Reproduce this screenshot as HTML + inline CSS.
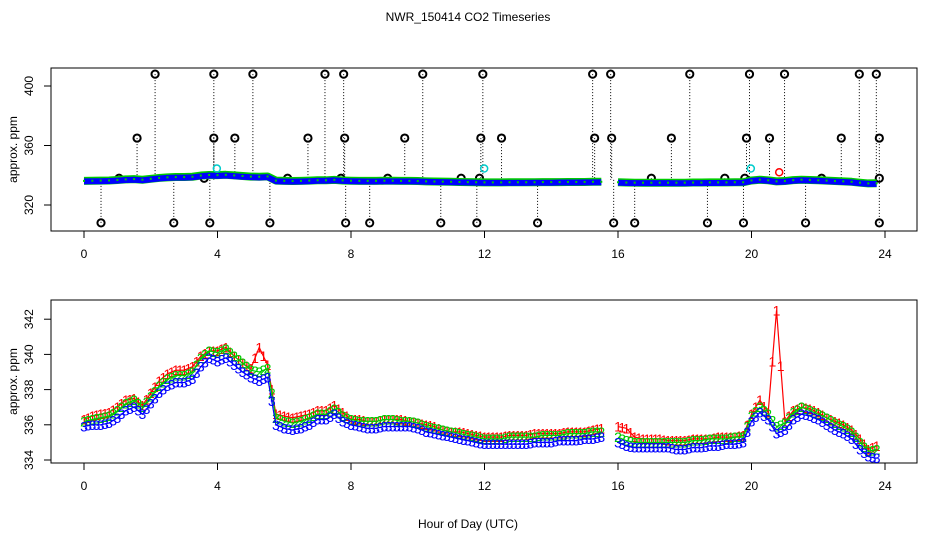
<!DOCTYPE html>
<html><head><meta charset="utf-8"><style>
body{margin:0;background:#fff}
svg{display:block;font-family:"Liberation Sans",sans-serif}
</style></head><body>
<svg id="c" width="936" height="540" xmlns="http://www.w3.org/2000/svg">
<rect width="936" height="540" fill="#fff"/>
<text x="468" y="21" font-size="12" text-anchor="middle">NWR_150414  CO2 Timeseries</text>
<text x="468" y="528" font-size="12" text-anchor="middle">Hour of Day (UTC)</text>
<g id="top"></g>
<g id="bot"></g>
</svg>
<script>
const xTicks=[0,4,8,12,16,20,24];
const topYTicks=[320,360,400];
const botYTicks=[334,336,338,340,342];
const blue=[335.9,336.0,336.0,336.1,336.4,336.8,337.0,336.6,337.2,337.8,338.2,338.4,338.4,338.6,339.3,339.8,
339.6,339.8,339.4,339.0,338.7,338.5,338.7,336.0,335.8,335.7,335.8,336.0,336.3,336.3,336.6,336.2,
336.0,335.9,335.8,335.8,335.9,335.9,335.9,335.9,335.8,335.6,335.5,335.4,335.3,335.2,335.1,335.0,
334.9,334.9,334.9,334.9,334.9,334.9,335.0,335.0,335.0,335.1,335.1,335.1,335.2,335.2,335.3,null,
335.0,334.8,334.7,334.7,334.7,334.7,334.7,334.6,334.6,334.7,334.7,334.8,334.8,334.9,334.9,335.0,
336.2,336.7,336.3,335.5,335.7,336.3,336.6,336.5,336.3,336.0,335.7,335.5,335.2,334.6,334.2,334.1];
const green=[336.2,336.3,336.4,336.5,336.8,337.2,337.4,337.0,337.6,338.2,338.6,338.8,338.8,339.0,339.8,340.2,
340.1,340.3,339.9,339.5,339.1,339.0,339.2,336.4,336.2,336.1,336.2,336.4,336.6,336.6,336.9,336.5,
336.3,336.2,336.2,336.2,336.3,336.3,336.2,336.2,336.1,335.9,335.8,335.7,335.6,335.5,335.4,335.3,
335.2,335.2,335.2,335.3,335.3,335.3,335.3,335.4,335.4,335.4,335.5,335.5,335.5,335.6,335.6,null,
335.3,335.1,335.0,335.0,335.0,335.0,335.0,335.0,335.0,335.1,335.1,335.2,335.2,335.2,335.3,335.3,
336.5,337.0,336.6,335.9,336.1,336.7,337.0,336.8,336.6,336.4,336.1,335.9,335.6,335.0,334.5,334.6];
const red=[336.3,336.5,336.6,336.7,337.0,337.4,337.5,337.1,337.8,338.5,338.9,339.1,339.1,339.3,339.9,340.2,
340.2,340.4,339.9,339.5,339.2,340.4,339.4,336.6,336.5,336.4,336.5,336.6,336.8,336.8,337.1,336.7,
336.3,336.3,336.2,336.2,336.3,336.3,336.3,336.2,336.1,336.0,335.9,335.7,335.6,335.6,335.5,335.4,
335.3,335.3,335.3,335.4,335.4,335.4,335.5,335.5,335.5,335.5,335.6,335.6,335.6,335.7,335.8,null,
335.9,335.8,335.3,335.2,335.2,335.2,335.1,335.1,335.1,335.2,335.2,335.2,335.3,335.3,335.3,335.4,
336.6,337.4,336.7,342.5,336.2,336.8,337.0,336.9,336.7,336.4,336.2,336.0,335.7,335.2,334.6,334.8];
const outHi=[2.13,3.89,5.06,7.22,7.78,10.15,11.95,15.24,15.78,18.15,19.94,20.99,23.23,23.74];
const outMid=[1.59,3.89,4.52,6.71,7.81,9.61,11.89,12.51,15.3,15.81,17.6,19.85,20.54,22.69,23.83];
const outLo=[0.51,2.69,3.77,5.57,7.84,8.56,10.69,11.77,13.59,15.87,16.5,18.68,19.76,21.62,23.83];
const outNear=[1.05,3.6,6.1,7.7,9.1,11.3,11.85,17.0,19.2,19.8,22.1,23.83];
const cyanT=[3.98,11.99,19.98];
const hiVal=408, midVal=365, loVal=308, nearVal=338, cyanVal=344.5;
const redOutT=[20.83], redOutV=[342];

const NS="http://www.w3.org/2000/svg";
function mk(parent,tag,attrs){const e=document.createElementNS(NS,tag);for(const k in attrs)e.setAttribute(k,attrs[k]);parent.appendChild(e);return e;}
const X=t=>84+t*33.375;
const Yt=v=>205-(v-320)*1.4875;
const Yb=v=>460-(v-334)*17.6;
const tOf=i=>i/4;

function axes(g,top,bot,yTicks,Y){
  const b=mk(g,'rect',{x:51,y:top,width:866,height:bot-top,fill:'none',stroke:'#000'});
  
  xTicks.forEach(t=>{
    const l=mk(g,'line',{x1:X(t),x2:X(t),y1:bot,y2:bot+7,stroke:'#000'});
    
    const s=mk(g,'text',{x:X(t),y:bot+27,'font-size':12,'text-anchor':'middle'});s.textContent=t;
    
  });
  yTicks.forEach(v=>{
    const l=mk(g,'line',{x1:44,x2:51,y1:Y(v),y2:Y(v),stroke:'#000'});
    
    const s=mk(g,'text',{x:0,y:0,'font-size':12,'text-anchor':'middle',transform:`translate(33,${Y(v)}) rotate(-90)`});s.textContent=v;
    
  });
  const yl=mk(g,'text',{x:0,y:0,'font-size':12,'text-anchor':'middle',transform:`translate(17,${(top+bot)/2}) rotate(-90)`});yl.textContent='approx. ppm';
  
}
function path(arr,Y){let d='',pen=false;arr.forEach((v,i)=>{if(v==null){pen=false;return;}d+=(pen?'L':'M')+X(tOf(i))+','+Y(v);pen=true;});return d;}

// top panel
const gt=document.getElementById('top');
axes(gt,68,231,topYTicks,Yt);
function outliers(ts,val){
  ts.forEach(t=>{
    const l=mk(gt,'line',{x1:X(t),x2:X(t),y1:Yt(val),y2:Yt(337),stroke:'#000','stroke-dasharray':'1,2'});
    
    const c=mk(gt,'circle',{cx:X(t),cy:Yt(val),r:3.6,fill:'none',stroke:'#000','stroke-width':2});
    
  });
}
outliers(outHi,hiVal);outliers(outMid,midVal);outliers(outLo,loVal);outliers(outNear,nearVal);
[[green,'#0c0',8],[blue,'#00f',6]].forEach(([a,c,w])=>{
  const p=mk(gt,'path',{d:path(a,Yt),fill:'none',stroke:c,'stroke-width':w,'stroke-linejoin':'round'});
  
});
green.forEach((v,i)=>{if(v==null)return;
  const d=mk(gt,'rect',{x:X(tOf(i))-1,y:Yt(v)-1,width:2,height:2,fill:'#0c0'});
  });
cyanT.forEach(t=>{const c=mk(gt,'circle',{cx:X(t),cy:Yt(cyanVal),r:3.5,fill:'none',stroke:'#0cc','stroke-width':1.5});
  });
redOutT.forEach((t,i)=>{const c=mk(gt,'circle',{cx:X(t),cy:Yt(redOutV[i]),r:3.5,fill:'none',stroke:'#f00','stroke-width':1.5});
  });

// bottom panel
const gb=document.getElementById('bot');
axes(gb,300,463,botYTicks,Yb);
[[red,'#f00','1'],[green,'#0c0','2'],[blue,'#00f','3']].forEach(([a,c,ch])=>{
  const p=mk(gb,'path',{d:path(a,Yb),fill:'none',stroke:c,'stroke-width':1.2});
  
  a.forEach((v,i)=>{if(v==null)return;
    [0,0.125].forEach(o=>{
      if(o&&a[i+1]==null)return;
      const vv=o?(v+a[i+1])/2:v;
      const s=mk(gb,'text',{x:X(tOf(i)+o),y:Yb(vv)+5,'font-size':14,'text-anchor':'middle',fill:c});
      s.textContent=ch;
      
    });
  });
});
</script>
</body></html>
